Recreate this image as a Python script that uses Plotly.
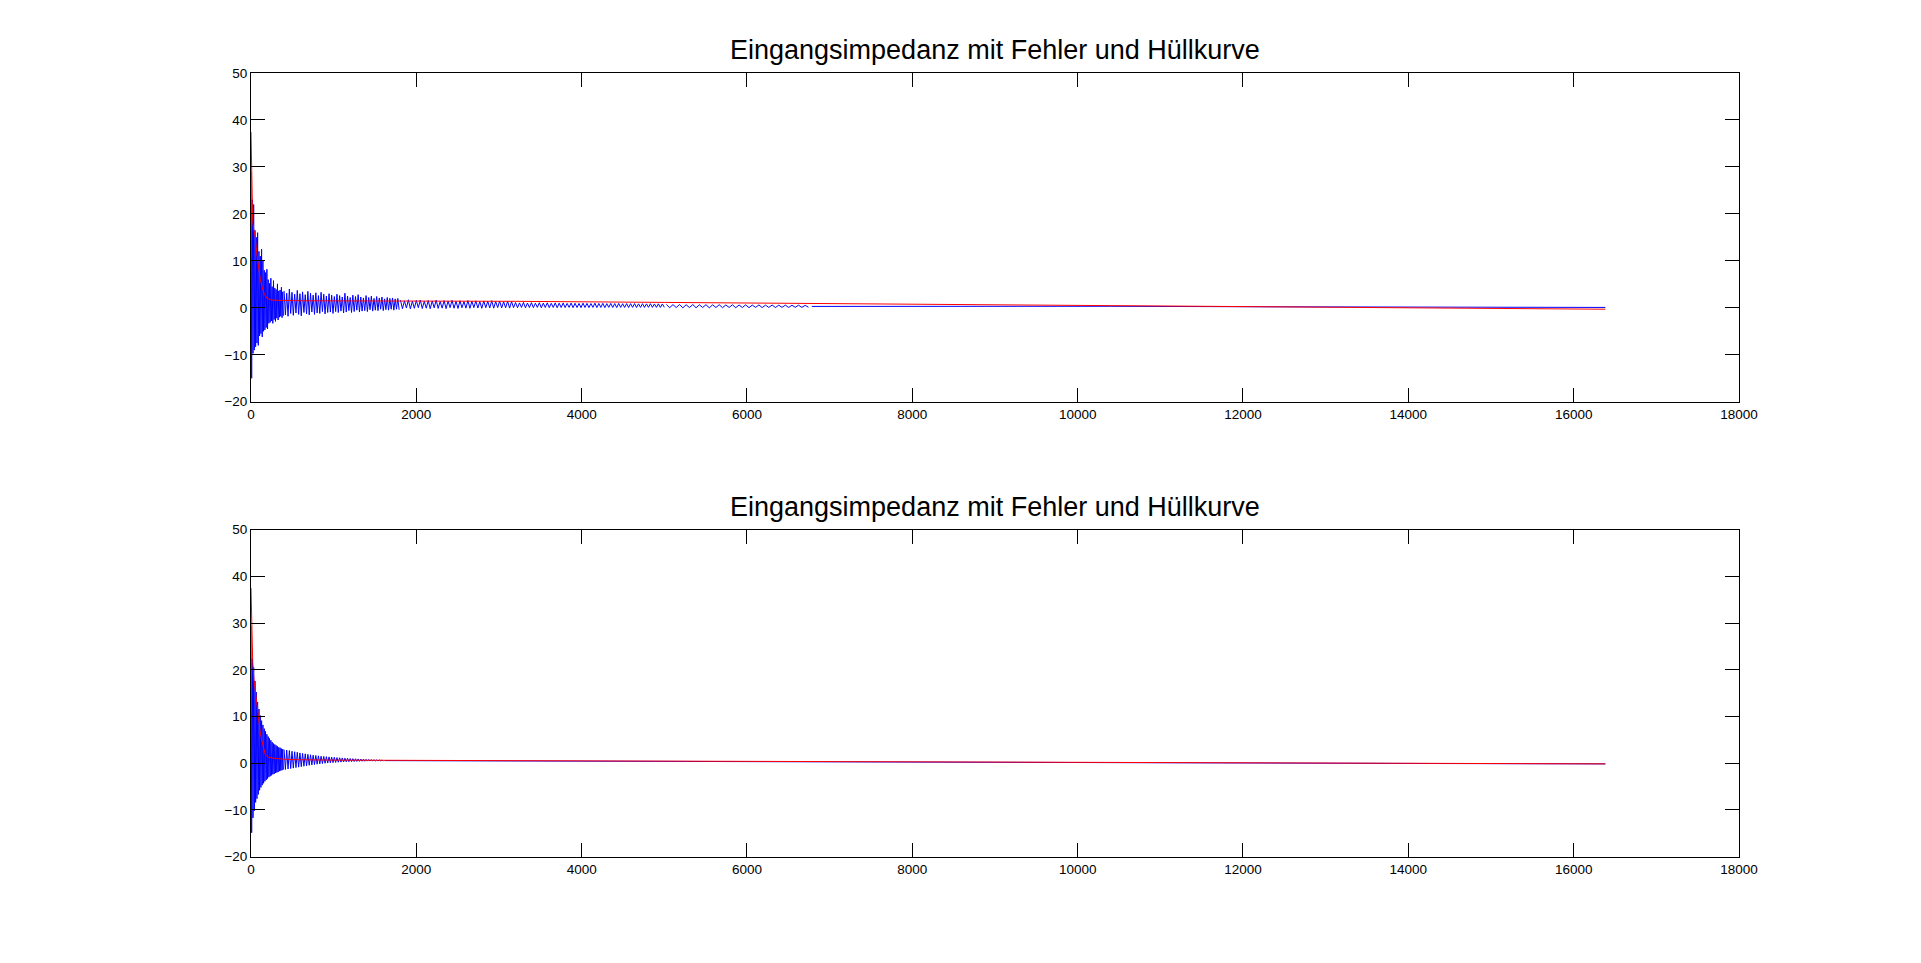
import plotly.graph_objects as go

TITLE = "Eingangsimpedanz mit Fehler und Hüllkurve"

# ---- upper panel: signal with error (blue), read off in segments ----
# segment start / sample spacing, then the values of that segment
sig1_a_x0, sig1_a_dx = 0, 8
sig1_a = [29.0, -15.0, 23.0, -9.7, 22.0, -9.0, 16.5, -8.3, 15.0, -7.5,
          16.0, -8.0, 12.0, -6.0, 11.0, -5.5, 12.5, -6.2, 10.0, -5.0,
          8.0, -4.7, 7.5, -4.2, 8.2, -4.5, 6.0, -3.3, 5.2, -3.1,
          6.3, -2.8, 4.5, -3.3, 5.8, -2.5, 4.2, -2.9, 3.9, -2.2,
          5.1, -2.6, 3.6, -2.0, 3.8, -1.8, 4.4, -2.1, 3.4, -1.7]

sig1_b_x0, sig1_b_dx = 400, 16
sig1_b = [3.6, -1.5, 3.1, -1.8, 4.0, -1.2, 3.3, -1.6, 2.9, -1.1, 3.7, -1.4, 3.0, -1.7, 3.4, -1.0, 2.8, -1.3, 3.5, -1.5,
          3.1, -0.9, 2.7, -1.4, 3.2, -1.1, 2.6, -1.2, 3.3, -0.8, 2.9, -1.3, 2.5, -1.0, 3.0, -0.9, 2.7, -1.2, 2.4, -0.8,
          2.9, -1.0, 2.6, -0.7, 2.3, -1.1, 3.1, -0.9, 2.5, -0.6, 2.2, -1.0, 2.7, -0.8, 2.4, -0.5, 2.8, -0.9, 2.3, -0.7,
          2.1, -0.6, 2.6, -0.8, 2.2, -0.4, 2.5, -0.7, 2.0, -0.5, 2.4, -0.6, 2.1, -0.3, 2.3, -0.6, 1.9, -0.4, 2.2, -0.5,
          2.0, -0.3, 2.1, -0.5, 1.9, -0.3, 2.0, -0.4]

sig1_c_x0, sig1_c_dx = 1808, 24
sig1_c = [1.62, -0.18, 1.48, -0.05, 1.70, -0.22, 1.41, -0.10, 1.58, 0.02, 1.66, -0.15, 1.39, -0.08, 1.55, -0.20,
          1.47, 0.00, 1.63, -0.12, 1.36, -0.06, 1.52, -0.17, 1.44, 0.03, 1.59, -0.09, 1.40, -0.14, 1.50, 0.01,
          1.35, -0.07, 1.54, -0.11, 1.42, 0.04, 1.48, -0.05, 1.33, -0.10, 1.46, 0.02, 1.38, -0.04, 1.51, -0.08,
          1.34, 0.05, 1.43, -0.03, 1.30, 0.00, 1.40, -0.06, 1.32, 0.03,
          1.12, 0.02, 1.05, 0.08, 1.15, 0.00, 1.02, 0.06, 1.10, 0.03, 0.98, 0.09, 1.08, 0.01, 1.00, 0.07,
          1.06, 0.04, 0.96, 0.08, 1.04, 0.02, 0.99, 0.06, 1.03, 0.05, 0.94, 0.09, 1.01, 0.03, 0.97, 0.07,
          0.93, 0.04, 1.00, 0.08, 0.95, 0.05, 0.91, 0.09, 0.98, 0.06, 0.92, 0.08, 0.96, 0.04, 0.89, 0.10,
          0.94, 0.07, 0.90, 0.05, 0.93, 0.09, 0.87, 0.08, 0.91, 0.06, 0.88, 0.10, 0.90, 0.07, 0.85, 0.09,
          0.88, 0.08, 0.84, 0.11, 0.87, 0.09, 0.83, 0.10, 0.85, 0.08, 0.82, 0.11]

sig1_d_x0, sig1_d_dx = 5024, 40
sig1_d = [0.72, 0.02, 0.68, 0.06, 0.70, -0.01, 0.66, 0.05, 0.69, 0.01, 0.64, 0.07, 0.67, 0.00, 0.63, 0.06,
          0.65, 0.03, 0.61, 0.08, 0.64, 0.02, 0.60, 0.07, 0.62, 0.04, 0.58, 0.09, 0.61, 0.05, 0.57, 0.08,
          0.59, 0.06, 0.55, 0.10, 0.57, 0.08, 0.54, 0.11, 0.55, 0.09, 0.52, 0.12]

sig1_tail_x = [6784, 8600, 10400, 12200, 14000, 15800, 16384]
sig1_tail_y = [0.30, 0.33, 0.33, 0.22, 0.18, 0.12, 0.08]

env1_x = [0, 4, 10, 20, 35, 52, 70, 93, 113, 133, 160, 193, 240, 294,
          600, 1200, 2000, 3200, 5000, 6800, 8600, 10400, 12200, 14000, 15800, 16384]
env1_y = [37.4, 33.0, 24.0, 18.3, 16.5, 15.0, 11.5, 8.0, 6.0, 4.5, 3.0, 2.0, 1.7, 1.6,
          1.5, 1.47, 1.45, 1.38, 1.15, 0.93, 0.72, 0.45, 0.25, 0.02, -0.2, -0.3]

# ---- lower panel ----
sig2_a_x0, sig2_a_dx = 0, 8
sig2_a = [29.5, -14.9, 22.4, -11.7, 20.5, -10.2, 17.6, -8.4, 15.2, -7.6,
          13.1, -6.7, 11.6, -5.8, 10.2, -5.2, 9.1, -4.7, 8.2, -4.3,
          7.4, -3.9, 6.8, -3.6, 6.2, -3.3, 5.7, -3.0, 5.3, -2.8,
          4.9, -2.6, 4.5, -2.4, 4.2, -2.3, 4.0, -2.1, 3.8, -2.0,
          3.6, -1.9, 3.4, -1.7, 3.3, -1.6, 3.1, -1.5, 3.0, -1.4]

sig2_b_x0, sig2_b_dx = 400, 16
sig2_b = [2.9, -1.35, 2.8, -1.25, 2.7, -1.15, 2.55, -1.05, 2.45, -0.95, 2.35, -0.85, 2.2, -0.75, 2.1, -0.65,
          2.0, -0.55, 1.9, -0.45, 1.8, -0.38, 1.72, -0.3, 1.65, -0.22, 1.58, -0.15, 1.5, -0.08, 1.45, -0.02,
          1.4, 0.03, 1.35, 0.08, 1.3, 0.12, 1.25, 0.16, 1.2, 0.2, 1.16, 0.23, 1.12, 0.26, 1.08, 0.29,
          1.04, 0.31, 1.0, 0.33, 0.97, 0.35, 0.94, 0.37, 0.91, 0.39, 0.88, 0.41, 0.85, 0.42, 0.82, 0.44,
          0.79, 0.45, 0.76, 0.46, 0.73, 0.47, 0.7, 0.48, 0.68, 0.49, 0.66, 0.5]

sig2_tail_x = [1616, 2500, 4000, 5500, 7500, 9000, 11000, 12500, 14500, 16384]
sig2_tail_y = [0.55, 0.5, 0.38, 0.3, 0.18, 0.1, 0.02, -0.02, -0.08, -0.15]

env2_x = [0, 4, 10, 20, 35, 52, 70, 93, 113, 133, 153, 173, 210, 254,
          400, 536, 1000, 1866, 4000, 7500, 9000, 11000, 14500, 16384]
env2_y = [37.5, 33.0, 24.0, 22.0, 18.0, 15.3, 12.0, 8.9, 6.5, 4.7, 3.0, 1.8, 1.3, 1.1,
          0.85, 0.75, 0.65, 0.6, 0.45, 0.25, 0.15, 0.05, -0.05, -0.15]

BLUE = "rgb(0,0,255)"
RED = "rgb(255,0,0)"
FONT = "Liberation Sans, Arial, sans-serif"

fig = go.Figure()

panels = [
    ("x", "y", [(sig1_a_x0, sig1_a_dx, sig1_a), (sig1_b_x0, sig1_b_dx, sig1_b),
                (sig1_c_x0, sig1_c_dx, sig1_c), (sig1_d_x0, sig1_d_dx, sig1_d)],
     sig1_tail_x, sig1_tail_y, env1_x, env1_y),
    ("x2", "y2", [(sig2_a_x0, sig2_a_dx, sig2_a), (sig2_b_x0, sig2_b_dx, sig2_b)],
     sig2_tail_x, sig2_tail_y, env2_x, env2_y),
]

for xa, ya, segs, tx, ty, ex, ey in panels:
    for x0, dx, vals in segs:
        fig.add_trace(go.Scatter(y=vals, x0=x0, dx=dx, mode="lines",
                                 line=dict(color=BLUE, width=1),
                                 xaxis=xa, yaxis=ya, showlegend=False))
    fig.add_trace(go.Scatter(x=tx, y=ty, mode="lines", line=dict(color=BLUE, width=1),
                             xaxis=xa, yaxis=ya, showlegend=False))
    fig.add_trace(go.Scatter(x=ex, y=ey, mode="lines", line=dict(color=RED, width=1),
                             xaxis=xa, yaxis=ya, showlegend=False))

W, H = 1921, 963
left, right = 250, 1756
boxes = [(67, 401), (531, 863)]   # top / bottom pixel of each axes box

common = dict(showline=True, linecolor="black", linewidth=1, mirror="ticks",
              ticks="inside", ticklen=14, tickcolor="black", tickwidth=1,
              showgrid=False, zeroline=False,
              tickfont=dict(family=FONT, size=13.5, color="black"))

xdom = [left / W, right / W]
fig.update_layout(
    width=W, height=H, autosize=False,
    margin=dict(l=0, r=0, t=0, b=0),
    paper_bgcolor="white", plot_bgcolor="white",
    xaxis=dict(domain=xdom, range=[0, 18000], dtick=2000, tickformat="d", anchor="y", **common),
    yaxis=dict(domain=[1 - boxes[0][1] / H, 1 - boxes[0][0] / H], range=[-20, 50], dtick=10,
               anchor="x", **common),
    xaxis2=dict(domain=xdom, range=[0, 18000], dtick=2000, tickformat="d", anchor="y2", **common),
    yaxis2=dict(domain=[1 - boxes[1][1] / H, 1 - boxes[1][0] / H], range=[-20, 50], dtick=10,
                anchor="x2", **common),
)

for top, _ in boxes:
    fig.add_annotation(text=TITLE, xref="paper", yref="paper",
                       x=(left + right) / 2 / W, y=1 - (top - 23.5) / H,
                       xanchor="center", yanchor="middle", showarrow=False,
                       font=dict(family=FONT, size=27, color="black"))

fig.write_html("out.html", config={"displayModeBar": False},
               post_script="document.body.style.margin='0';")
